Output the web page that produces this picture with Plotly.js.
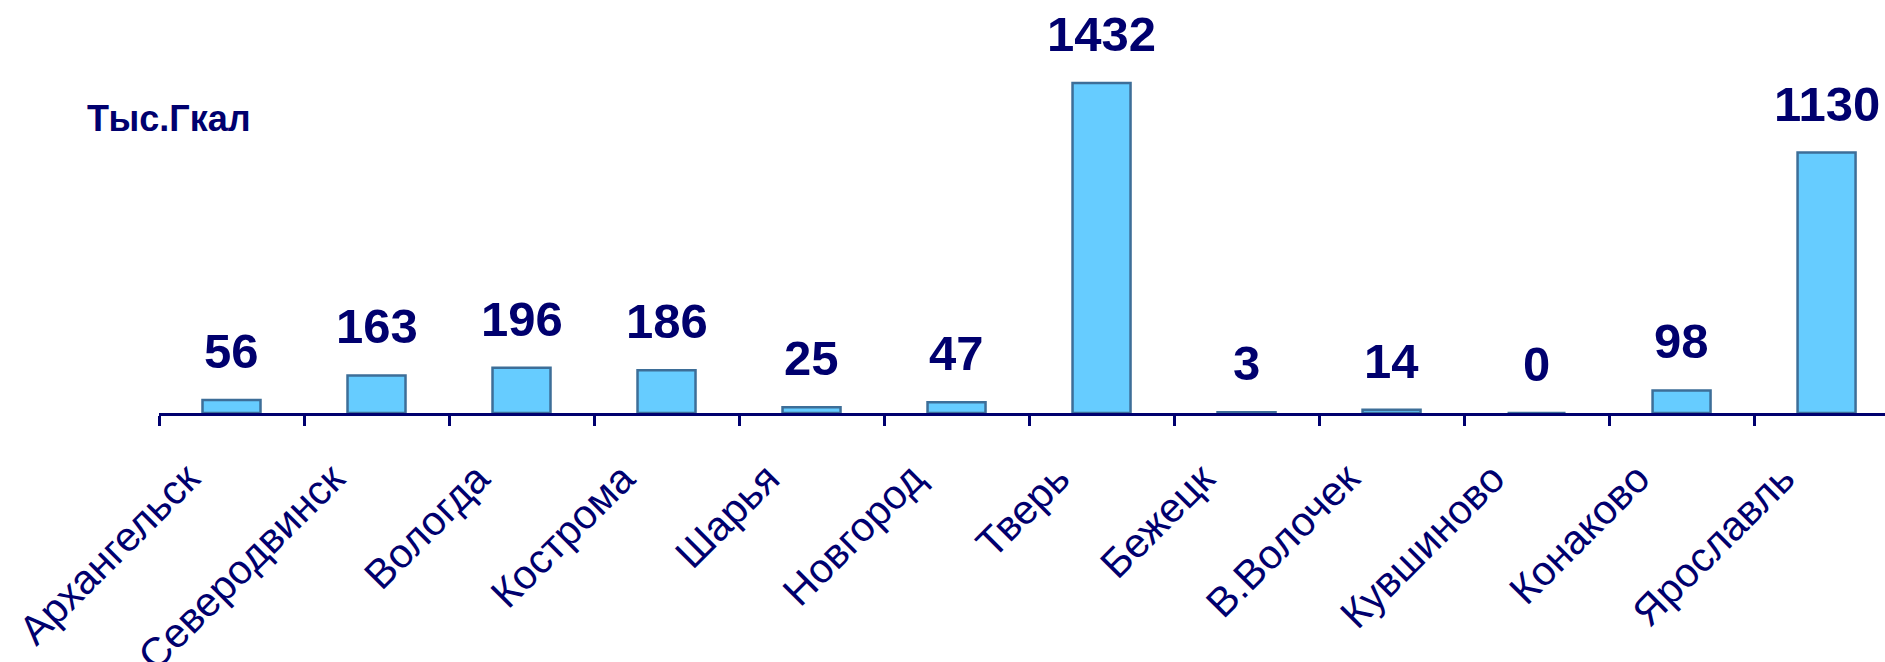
<!DOCTYPE html>
<html>
<head>
<meta charset="utf-8">
<script src="https://cdn.plot.ly/plotly-3.0.1.min.js"></script>
<style>
html,body{margin:0;padding:0;background:#fff;}
#chart{width:1885px;height:662px;}
</style>
</head>
<body>
<div id="chart"></div>
<script>
const cities = ["Архангельск","Северодвинск","Вологда","Кострома","Шарья","Новгород","Тверь","Бежецк","В.Волочек","Кувшиново","Конаково","Ярославль"];
const values = [56, 163, 196, 186, 25, 47, 1432, 3, 14, 0, 98, 1130];
const unitLabel = "Тыс.Гкал";

const navy = "#00006E";
const fontFam = "Liberation Sans, Arial, sans-serif";

const trace = {
  type: "bar",
  x: cities,
  y: values,
  marker: {color: "#66CCFF", line: {color: "#3D6E98", width: 2.5}},
  hoverinfo: "x+y"
};

const annotations = cities.map((c, i) => ({
  x: c, y: values[i], xref: "x", yref: "y",
  text: String(values[i]),
  showarrow: false, xanchor: "center", yanchor: "bottom", yshift: 20,
  font: {family: fontFam, size: 49, color: navy, weight: "bold"}
}));
annotations.push({
  xref: "paper", yref: "paper", x: -0.043, y: 0.712,
  xanchor: "left", yanchor: "middle", showarrow: false,
  text: "<b>" + unitLabel + "</b>",
  font: {family: fontFam, size: 36, color: navy}
});

const layout = {
  width: 1885, height: 662,
  margin: {l: 159, r: 0, t: 0, b: 249, pad: 0},
  paper_bgcolor: "#fff", plot_bgcolor: "#fff",
  showlegend: false,
  bargap: 0.6,
  xaxis: {
    type: "category",
    range: [-0.5, 11.403],
    showline: true, linecolor: navy, linewidth: 3,
    ticks: "outside", tickson: "boundaries", ticklen: 10, tickwidth: 3, tickcolor: navy,
    tickangle: -45,
    tickfont: {family: fontFam, size: 41, color: navy},
    ticklabelstandoff: 22,
    ticklabelshift: -44,
    showgrid: false, zeroline: false, fixedrange: true
  },
  yaxis: {range: [0, 1792], visible: false, showgrid: false, zeroline: false, fixedrange: true},
  annotations: annotations
};

Plotly.newPlot("chart", [trace], layout, {displayModeBar: false, staticPlot: true});
</script>
</body>
</html>
